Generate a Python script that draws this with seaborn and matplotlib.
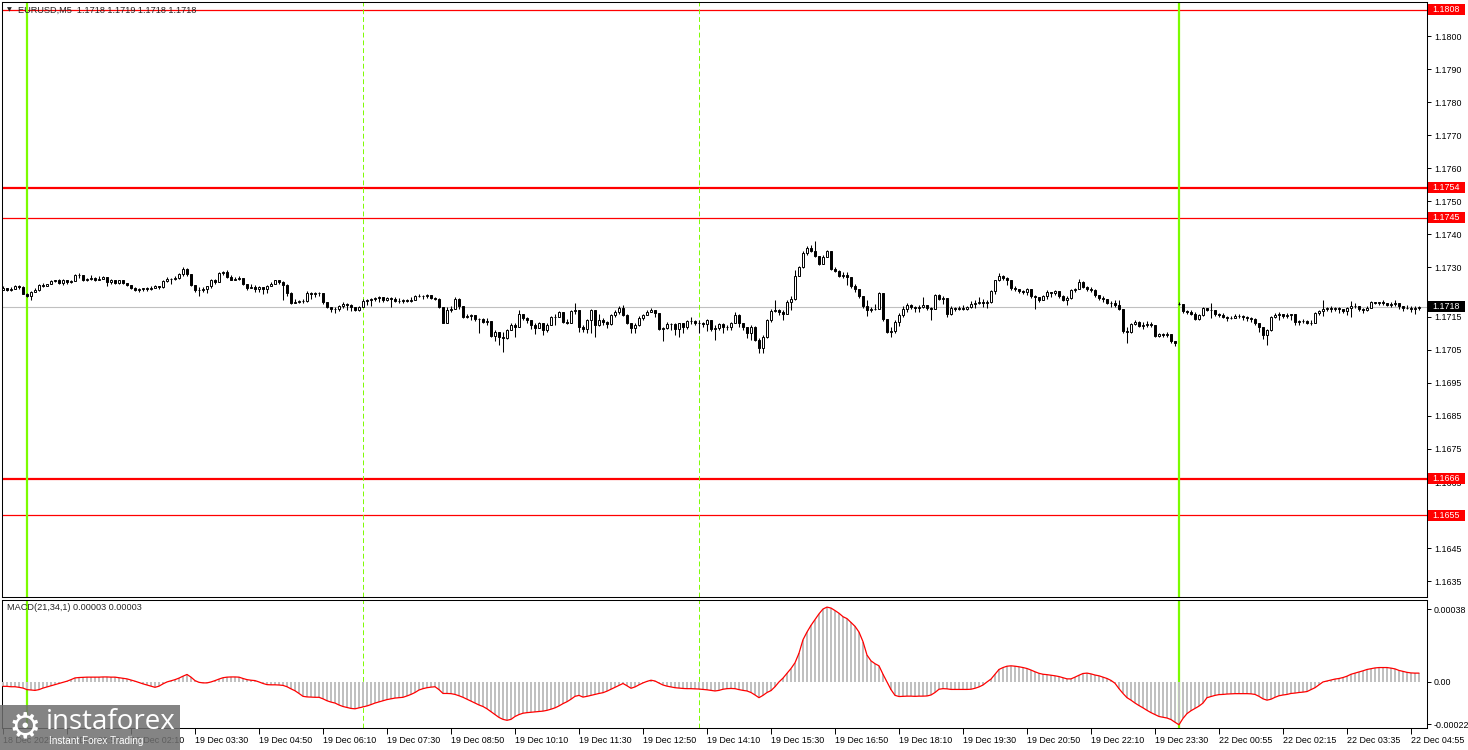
import matplotlib
matplotlib.use("Agg")
import matplotlib.pyplot as plt
import matplotlib.transforms as mtransforms
from matplotlib.patches import Rectangle
import numpy as np
import seaborn as sns

# EURUSD M5, prices in pips above 1.1700 (bar 0 = 18 Dec 23:30)
first_open = 23.2
monday_start = 294      # first bar of 22 Dec
monday_open = 18.9

close_pips = [
    23.6, 23.0, 23.4, 24.2, 23.9, 22.0, 21.2, 22.6, 23.0, 24.6,
    24.4, 24.8, 25.9, 26.0, 25.2, 26.2, 25.6, 25.9, 27.8, 27.6,
    26.2, 26.5, 26.9, 26.2, 26.6, 27.0, 25.4, 26.0, 25.3, 26.0,
    25.2, 24.5, 23.7, 23.0, 23.4, 23.6, 23.5, 23.8, 24.2, 23.9,
    25.9, 26.5, 26.4, 26.8, 27.9, 29.6, 28.0, 24.6, 23.0, 23.2,
    23.5, 24.2, 26.3, 25.6, 28.2, 28.5, 27.0, 26.2, 26.5, 26.8,
    25.0, 23.8, 24.1, 23.5, 24.0, 23.5, 24.3, 25.0, 26.0, 25.4,
    24.6, 22.3, 19.3, 19.5, 19.8, 19.9, 22.3, 22.0, 22.3, 22.1,
    19.5, 18.1, 17.3, 17.5, 18.4, 18.8, 18.5, 18.0, 17.2, 18.0,
    19.8, 20.1, 20.3, 20.6, 20.9, 20.0, 20.8, 20.4, 19.8, 19.7,
    20.0, 19.7, 20.2, 21.4, 21.2, 21.2, 21.6, 20.6, 20.5, 18.0,
    13.2, 17.0, 17.5, 20.5, 18.2, 15.0, 15.2, 15.5, 14.2, 14.3,
    13.5, 13.7, 9.2, 10.4, 8.8, 8.5, 11.0, 12.5, 12.0, 16.0,
    14.5, 14.0, 12.5, 11.5, 13.2, 11.0, 12.5, 15.0, 15.1, 16.4,
    13.4, 13.0, 16.8, 17.0, 12.0, 11.2, 14.0, 17.0, 12.5, 14.0,
    13.5, 12.8, 15.6, 16.5, 17.6, 15.5, 13.0, 11.5, 12.5, 14.8,
    15.5, 16.6, 17.0, 16.3, 11.3, 11.5, 12.7, 12.8, 11.2, 13.0,
    12.0, 13.6, 13.8, 13.2, 13.0, 12.8, 14.0, 11.4, 11.6, 12.8,
    12.0, 11.8, 13.0, 15.5, 13.2, 12.0, 10.0, 12.0, 8.0, 5.5,
    9.0, 14.0, 16.8, 17.0, 16.5, 16.0, 19.5, 20.5, 27.5, 30.0,
    34.3, 35.8, 34.9, 33.4, 31.0, 33.2, 34.8, 29.5, 29.0, 27.5,
    27.6, 27.2, 24.2, 23.3, 21.3, 18.2, 17.0, 17.3, 17.5, 22.2,
    14.3, 10.4, 10.6, 13.5, 15.5, 17.5, 18.7, 18.0, 17.8, 18.0,
    18.5, 17.6, 17.5, 21.5, 20.4, 20.6, 16.0, 17.8, 17.5, 17.8,
    17.5, 18.0, 18.8, 19.2, 19.6, 19.2, 19.5, 22.8, 26.0, 27.5,
    26.8, 26.3, 23.6, 23.4, 22.8, 22.6, 23.4, 21.2, 20.9, 20.2,
    21.2, 22.6, 22.2, 22.8, 21.2, 20.2, 20.8, 23.0, 23.5, 25.5,
    24.0, 23.5, 23.2, 21.5, 20.8, 20.3, 19.3, 19.2, 18.6, 17.3,
    10.6, 10.4, 12.8, 13.3, 12.2, 12.6, 12.8, 12.5, 9.3, 9.8,
    9.6, 9.8, 7.6, 7.2, 19.0, 16.8, 16.6, 16.0, 14.4, 15.5,
    17.6, 17.0, 17.2, 16.0, 15.5, 15.0, 14.5, 14.8, 15.2, 15.4,
    15.0, 14.5, 14.3, 13.2, 12.0, 9.5, 11.0, 15.0, 15.6, 15.8,
    15.3, 15.6, 15.8, 13.3, 13.6, 13.8, 13.2, 13.0, 16.2, 16.8,
    17.4, 17.6, 17.4, 17.6, 17.3, 16.8, 17.8, 18.4, 18.2, 17.3,
    17.0, 17.8, 19.5, 19.2, 19.5, 19.3, 18.6, 18.8, 19.2, 18.4,
    17.6, 17.8, 17.5, 17.7, 18.0,
]

high_pips = [
    24.4, 23.8, 24.0, 24.5, 24.6, 24.3, 22.2, 22.9, 23.8, 24.9,
    25.2, 25.0, 26.2, 26.3, 26.4, 26.6, 26.3, 26.1, 28.1, 28.4,
    27.6, 26.8, 27.6, 27.0, 27.3, 27.5, 27.0, 26.4, 26.2, 26.3,
    26.1, 25.3, 24.6, 24.0, 23.6, 23.8, 23.9, 24.4, 24.6, 24.4,
    26.1, 27.2, 26.9, 27.3, 28.2, 30.2, 29.8, 28.0, 24.6, 24.0,
    24.0, 24.4, 26.5, 26.4, 28.5, 29.0, 29.2, 27.6, 27.2, 27.4,
    26.8, 25.0, 24.8, 24.6, 24.3, 24.0, 24.5, 25.6, 26.2, 26.0,
    25.8, 24.8, 22.6, 20.3, 20.2, 20.3, 22.8, 22.5, 22.6, 22.5,
    22.1, 19.6, 18.1, 18.0, 18.6, 19.4, 19.2, 18.8, 18.0, 18.4,
    20.3, 20.4, 20.6, 20.9, 21.2, 20.9, 21.1, 20.9, 20.9, 20.7,
    20.4, 20.3, 21.0, 21.6, 22.0, 21.7, 22.0, 21.6, 21.0, 20.6,
    18.0, 18.0, 18.2, 21.0, 20.8, 18.2, 16.0, 15.8, 15.5, 14.6,
    14.6, 14.5, 13.7, 11.0, 10.4, 10.5, 11.3, 13.0, 13.0, 17.0,
    16.0, 15.0, 14.0, 13.0, 13.5, 13.2, 13.0, 15.3, 16.0, 16.8,
    16.5, 14.2, 17.2, 19.1, 17.0, 12.5, 14.2, 17.5, 17.0, 16.0,
    14.6, 13.6, 16.0, 17.0, 18.2, 18.5, 15.8, 13.0, 13.0, 15.2,
    16.0, 17.2, 17.8, 17.0, 16.3, 12.0, 13.5, 13.2, 13.0, 13.2,
    13.2, 14.0, 15.0, 14.0, 14.0, 13.5, 14.2, 14.0, 12.5, 13.0,
    13.2, 12.5, 13.3, 16.5, 15.8, 13.2, 12.0, 12.5, 12.2, 8.5,
    9.5, 14.3, 17.3, 20.1, 17.3, 17.0, 20.0, 21.2, 29.2, 30.3,
    34.8, 36.3, 36.8, 37.9, 33.5, 33.8, 35.3, 34.9, 30.0, 29.3,
    28.5, 28.7, 27.0, 24.8, 23.5, 21.2, 20.0, 17.9, 19.0, 22.6,
    22.2, 14.0, 11.8, 13.9, 16.1, 18.2, 19.1, 19.0, 18.3, 18.5,
    21.0, 18.7, 18.0, 22.0, 21.8, 21.2, 20.6, 18.2, 18.0, 18.2,
    18.6, 18.4, 19.8, 20.0, 21.1, 20.4, 20.2, 23.2, 26.3, 28.2,
    27.8, 27.0, 26.3, 24.2, 23.5, 23.2, 23.8, 23.5, 21.6, 20.8,
    21.6, 23.0, 22.6, 23.0, 22.8, 21.5, 21.2, 23.4, 23.8, 26.4,
    25.8, 24.2, 24.0, 23.4, 21.5, 21.2, 20.4, 19.8, 20.0, 20.0,
    17.2, 11.8, 13.2, 14.0, 13.6, 13.4, 13.8, 13.3, 12.6, 10.2,
    10.2, 10.3, 9.8, 7.8, 19.6, 18.6, 17.2, 17.0, 16.4, 15.8,
    18.0, 17.7, 19.2, 17.2, 16.3, 16.1, 15.3, 15.2, 16.0, 15.8,
    15.6, 15.2, 15.0, 14.5, 13.0, 12.0, 11.3, 15.3, 16.2, 16.5,
    16.0, 16.3, 16.0, 15.8, 14.0, 14.2, 14.0, 14.0, 16.5, 17.2,
    20.2, 18.0, 18.2, 18.0, 18.0, 17.5, 18.0, 19.8, 19.2, 18.4,
    17.6, 18.2, 19.8, 19.6, 19.6, 20.0, 19.2, 19.5, 20.0, 19.0,
    18.3, 18.6, 18.2, 18.4, 18.2,
]

low_pips = [
    23.0, 22.8, 22.9, 23.3, 23.5, 21.8, 20.9, 20.0, 22.4, 22.9,
    24.0, 24.2, 24.8, 25.6, 25.0, 24.5, 25.0, 25.3, 25.8, 26.8,
    25.9, 25.8, 26.3, 25.7, 26.0, 26.5, 24.2, 25.0, 25.0, 25.0,
    24.9, 24.2, 23.3, 22.8, 22.5, 22.7, 22.9, 23.0, 23.6, 23.3,
    23.6, 25.5, 25.0, 26.0, 26.4, 27.4, 27.4, 24.2, 22.5, 21.2,
    22.6, 22.2, 23.6, 24.8, 25.6, 27.8, 26.8, 26.0, 26.2, 26.3,
    24.6, 23.2, 23.8, 22.6, 22.5, 22.0, 22.2, 24.2, 24.8, 24.8,
    20.2, 21.2, 19.0, 19.1, 19.3, 19.2, 19.6, 20.5, 21.0, 21.4,
    19.0, 17.8, 16.5, 16.1, 16.8, 17.6, 17.0, 16.8, 16.9, 16.9,
    17.9, 18.5, 18.3, 19.9, 19.6, 19.5, 19.9, 18.1, 19.4, 19.2,
    19.3, 19.4, 19.6, 20.0, 20.9, 20.3, 20.6, 20.3, 20.2, 17.8,
    13.0, 13.0, 16.5, 17.4, 17.5, 14.8, 14.8, 14.0, 13.8, 10.0,
    13.0, 12.6, 9.0, 7.8, 6.4, 4.3, 8.2, 11.0, 9.0, 12.0,
    14.0, 13.2, 11.3, 9.8, 11.5, 9.5, 10.5, 12.5, 12.6, 15.1,
    13.0, 12.7, 13.0, 16.0, 10.5, 10.5, 10.0, 10.0, 9.0, 12.2,
    12.5, 11.5, 12.5, 15.0, 16.0, 15.2, 12.8, 10.0, 10.0, 12.3,
    14.0, 15.5, 16.5, 15.0, 11.0, 7.8, 11.2, 11.0, 9.5, 9.0,
    10.0, 11.2, 12.8, 12.5, 10.2, 12.0, 10.6, 10.8, 8.0, 11.0,
    10.0, 11.0, 11.0, 13.0, 12.0, 11.0, 8.5, 8.0, 7.8, 4.2,
    4.0, 8.5, 13.5, 16.5, 15.5, 14.0, 16.0, 17.0, 20.0, 27.5,
    29.8, 33.8, 34.6, 33.2, 30.7, 30.9, 33.0, 29.2, 28.5, 27.2,
    26.8, 24.6, 23.6, 22.5, 20.8, 17.6, 15.2, 16.5, 17.0, 17.5,
    13.8, 10.0, 9.0, 10.2, 12.3, 15.0, 16.6, 17.5, 16.5, 16.4,
    17.8, 17.0, 14.0, 17.3, 20.0, 19.0, 15.0, 15.5, 16.8, 17.0,
    17.2, 17.0, 17.8, 17.8, 18.8, 18.0, 17.8, 19.3, 22.0, 25.8,
    26.0, 24.5, 23.2, 22.8, 22.2, 21.8, 21.5, 20.6, 17.4, 19.5,
    20.0, 20.5, 21.0, 21.5, 20.6, 19.8, 18.5, 20.4, 22.4, 23.5,
    23.6, 22.8, 22.6, 21.0, 20.2, 19.5, 19.0, 18.0, 18.0, 17.0,
    10.0, 7.0, 10.2, 12.5, 12.0, 11.2, 12.0, 12.0, 9.0, 9.0,
    9.0, 9.0, 7.2, 6.3, 18.6, 16.3, 15.8, 15.6, 14.0, 14.0,
    15.3, 16.8, 14.6, 15.4, 15.0, 14.5, 13.7, 14.2, 14.6, 14.5,
    14.0, 13.8, 13.4, 12.5, 10.5, 8.2, 6.5, 10.8, 14.6, 14.0,
    14.6, 14.5, 14.0, 12.5, 12.6, 13.0, 12.9, 12.5, 13.0, 15.5,
    15.3, 16.8, 16.5, 16.8, 16.3, 16.3, 15.7, 15.0, 17.6, 16.8,
    16.3, 16.8, 17.6, 18.8, 18.6, 18.6, 18.2, 18.0, 18.3, 17.4,
    16.9, 17.4, 16.6, 16.0, 17.0,
]

# MACD(21,34,1) main value, in units of 0.00001
macd_e5 = [
    -2.3, -2.3, -2.5, -2.5, -2.8, -3.2, -4.0, -4.2, -4.4, -4.0,
    -3.2, -2.6, -2.0, -1.4, -0.8, -0.2, 0.4, 1.2, 2.1, 2.3,
    2.4, 2.5, 2.5, 2.5, 2.5, 2.6, 2.6, 2.5, 2.5, 2.2,
    1.9, 1.6, 1.0, 0.4, -0.3, -1.0, -1.6, -2.2, -2.8, -2.2,
    -1.0, 0.0, 0.6, 1.2, 2.0, 3.0, 3.9, 2.5, 0.7, -0.2,
    -0.5, -0.5, 0.0, 0.7, 1.5, 2.2, 2.5, 2.6, 2.6, 2.5,
    1.8, 1.2, 0.9, 0.7, 0.0, -0.8, -1.4, -1.5, -1.5, -1.6,
    -1.8, -2.5, -3.6, -4.6, -6.0, -7.5, -7.8, -7.9, -8.0, -8.0,
    -8.8, -9.8, -10.5, -11.0, -12.0, -12.8, -13.3, -13.8, -14.0, -13.5,
    -13.0, -12.5, -11.8, -11.0, -10.4, -9.8, -9.2, -8.8, -8.4, -8.2,
    -8.0, -7.3, -6.5, -5.5, -4.2, -3.5, -3.0, -2.7, -2.5, -4.0,
    -6.0, -6.0, -6.1, -6.5, -7.2, -8.0, -9.0, -10.0, -11.0, -12.0,
    -12.8, -14.0, -15.5, -17.0, -18.5, -19.5, -20.0, -19.5, -18.0, -17.0,
    -16.3, -16.0, -15.8, -15.6, -15.4, -15.2, -14.8, -14.2, -13.5, -12.5,
    -11.3, -10.3, -9.0, -7.5, -7.0, -7.9, -7.5, -7.0, -6.5, -6.0,
    -5.6, -4.8, -3.8, -2.8, -1.8, -0.8, -2.0, -3.3, -2.6, -1.5,
    -0.5, 0.3, 0.9, 0.5, -0.6, -1.6, -2.2, -2.6, -3.0, -3.2,
    -3.4, -3.5, -3.5, -3.6, -3.7, -3.9, -4.1, -4.4, -4.7, -4.4,
    -3.8, -3.5, -3.4, -3.5, -4.0, -4.4, -4.7, -5.5, -6.8, -8.2,
    -7.0, -5.5, -4.5, -2.5, 0.0, 2.0, 4.5, 7.0, 10.0, 15.0,
    22.0, 26.0, 29.5, 32.5, 35.5, 38.0, 39.0, 38.5, 37.2, 35.8,
    34.0, 33.0, 31.0, 29.0, 26.0, 21.0, 14.0, 11.0, 9.5, 8.4,
    4.0, 0.0, -4.0, -7.0, -7.6, -7.5, -7.4, -7.4, -7.5, -7.4,
    -7.4, -7.3, -6.8, -5.5, -3.8, -3.5, -3.6, -3.9, -3.9, -3.9,
    -3.9, -3.9, -3.8, -3.3, -2.6, -1.6, 0.0, 1.5, 4.0, 6.5,
    7.5, 8.2, 8.4, 8.2, 7.9, 7.5, 7.0, 6.2, 5.3, 4.5,
    4.0, 3.8, 3.5, 3.2, 2.8, 2.2, 1.6, 1.6, 2.5, 3.5,
    4.4, 4.6, 4.2, 3.6, 3.2, 2.5, 1.8, 0.8, -0.7, -3.5,
    -6.0, -8.2, -9.5, -11.0, -12.3, -13.5, -14.8, -16.0, -17.0, -18.0,
    -18.4, -18.8, -19.6, -21.0, -22.3, -19.0, -16.5, -15.0, -13.8, -12.6,
    -11.0, -8.2, -7.6, -7.0, -6.6, -6.5, -6.3, -6.2, -6.1, -6.1,
    -6.1, -6.1, -6.2, -6.5, -7.5, -8.8, -9.5, -9.0, -8.0, -7.2,
    -6.8, -6.5, -6.0, -5.8, -5.5, -5.3, -5.0, -4.0, -3.0, -1.5,
    0.0, 0.5, 1.0, 1.5, 1.8, 2.3, 3.0, 4.0, 4.6, 5.2,
    5.8, 6.5, 6.9, 7.3, 7.5, 7.5, 7.5, 7.2, 6.8, 6.0,
    5.5, 5.0, 4.7, 4.6, 4.6,
]

time_ticks = list(range(0, 353, 16))
time_labels = [
    "18 Dec 2025", "19 Dec 00:50", "19 Dec 02:10", "19 Dec 03:30",
    "19 Dec 04:50", "19 Dec 06:10", "19 Dec 07:30", "19 Dec 08:50",
    "19 Dec 10:10", "19 Dec 11:30", "19 Dec 12:50", "19 Dec 14:10",
    "19 Dec 15:30", "19 Dec 16:50", "19 Dec 18:10", "19 Dec 19:30",
    "19 Dec 20:50", "19 Dec 22:10", "19 Dec 23:30", "22 Dec 00:55",
    "22 Dec 02:15", "22 Dec 03:35", "22 Dec 04:55",
]

price_ticks = [1.1800, 1.1790, 1.1780, 1.1770, 1.1760, 1.1750, 1.1740, 1.1730,
               1.1715, 1.1705, 1.1695, 1.1685, 1.1675, 1.1665, 1.1655, 1.1645, 1.1635]
thin_levels = [1.1808, 1.1745, 1.1655]
thick_levels = [1.1754, 1.1666]
bid_price = 1.1718
day_bars = [6, 294]          # day separators (green)
dash_bars = [90, 174]        # dashed vertical lines

# ---------------------------------------------------------------
sns.set_theme(style="white")
plt.rcParams['font.family'] = ['Liberation Sans', 'DejaVu Sans']
plt.rcParams['axes.edgecolor'] = 'black'
plt.rcParams['axes.linewidth'] = 0.75

W, H = 1468, 750
fig = plt.figure(figsize=(W / 100, H / 100), dpi=100)
fig.patch.set_facecolor('white')


def px_axes(x0, y0, x1, y1):
    return fig.add_axes([x0 / W, 1 - y1 / H, (x1 - x0) / W, (y1 - y0) / H])


ax = px_axes(2, 2, 1427, 597)
ax2 = px_axes(2, 600, 1427, 728)

# price in real units
idx = np.arange(len(close_pips))
c = 1.17 + np.array(close_pips) / 1e4
opens = np.r_[first_open, close_pips[:-1]]
opens[monday_start] = monday_open
o = 1.17 + opens / 1e4
h = np.maximum(1.17 + np.array(high_pips) / 1e4, np.maximum(o, c))
l = np.minimum(1.17 + np.array(low_pips) / 1e4, np.minimum(o, c))
up = c >= o

# reference lines
for p in thin_levels:
    ax.axhline(p, color='red', lw=0.9, zorder=2)
for p in thick_levels:
    ax.axhline(p, color='red', lw=1.6, zorder=2)
ax.axhline(bid_price, color='#c0c0c0', lw=0.8, zorder=1)
for a in (ax, ax2):
    for b in day_bars:
        a.axvline(b, color='#7cfc00', lw=1.6, zorder=2)
    for b in dash_bars:
        a.axvline(b, color='#7cfc00', lw=0.7, ls=(0, (5, 3)), zorder=2)

# candles
ax.vlines(idx, l, h, color='black', lw=0.75, zorder=3)
ax.bar(idx[up], (c - o)[up], bottom=o[up], width=0.5, facecolor='white',
       edgecolor='black', lw=0.7, zorder=4)
ax.bar(idx[~up], (c - o)[~up], bottom=o[~up], width=0.5, facecolor='black',
       edgecolor='black', lw=0.7, zorder=4)

ax.set_xlim(-0.25, 356)
ax.set_ylim(1.18 - 561 / 33040, 1.18 + 34 / 33040)
ax.set_xticks([])
ax.yaxis.tick_right()
ax.set_yticks(price_ticks)
ax.set_yticklabels([f"{p:.4f}" for p in price_ticks])
ax.tick_params(axis='y', right=True, left=False, length=3, width=0.7, pad=2,
               labelsize=6.4, colors='black')

# price labels on the axis
trans = mtransforms.blended_transform_factory(ax.transAxes, ax.transData)
box_h = 11 / 33040
for p, fc in [(1.1808, 'red'), (1.1754, 'red'), (1.1745, 'red'),
              (1.1666, 'red'), (1.1655, 'red'), (bid_price, 'black')]:
    ax.add_patch(Rectangle((1.0008, p - box_h / 2), 0.0262, box_h, transform=trans,
                           facecolor=fc, edgecolor='none', clip_on=False, zorder=10))
    ax.text(1.0035, p, f"{p:.4f}", transform=trans, color='white', size=6.4,
            va='center', ha='left', clip_on=False, zorder=11)

# MACD panel
macd = np.array(macd_e5) / 1e5
ax2.bar(idx, macd, width=0.5, color='#c0c0c0', linewidth=0, zorder=3)
sns.lineplot(x=idx, y=macd, ax=ax2, color='red', lw=0.9, zorder=4)
ax2.set_xlim(-0.25, 356)
ax2.set_ylim(-24 / 1e5, 42.7 / 1e5)
ax2.yaxis.tick_right()
ax2.set_yticks([0.00038, 0.0, -0.00022])
ax2.set_yticklabels(['0.00038', '0.00', '-0.00022'])
ax2.tick_params(axis='y', right=True, left=False, length=3, width=0.7, pad=2,
                labelsize=6.4, colors='black')
ax2.set_xticks(time_ticks)
ax2.set_xticklabels(time_labels, ha='left')
ax2.tick_params(axis='x', bottom=True, length=4, width=0.7, pad=1.5,
                labelsize=6.4, colors='black')
ax2.set_xlabel('')
ax2.set_ylabel('')

# texts
fig.text(9 / W, 1 - 10 / H, "\u25bc", size=4.5, va='center', ha='center',
         family=['DejaVu Sans'])
fig.text(18 / W, 1 - 10 / H, "EURUSD,M5  1.1718 1.1719 1.1718 1.1718",
         size=6.6, va='center', ha='left')
fig.text(7 / W, 1 - 608 / H, "MACD(21,34,1) 0.00003 0.00003",
         size=6.6, va='center', ha='left')

# watermark logo
fig.patches.append(Rectangle((0, 0), 180 / W, 45 / H, transform=fig.transFigure,
                             facecolor='#6f6f6f', alpha=0.85, edgecolor='none',
                             zorder=20))
fig.text(25 / W, 1 - 727 / H, "\u2699", size=26, color='white', ha='center',
         va='center', family=['DejaVu Sans'], zorder=21)
fig.text(46 / W, 1 - 722 / H, "instaforex", size=20, color='white', ha='left',
         va='center', family=['Open Sans', 'DejaVu Sans'], zorder=21)
fig.text(49 / W, 1 - 741 / H, "Instant Forex Trading", size=7.2, color='white',
         ha='left', va='center', zorder=21)

fig.savefig('out.png', dpi=100, facecolor='white')
